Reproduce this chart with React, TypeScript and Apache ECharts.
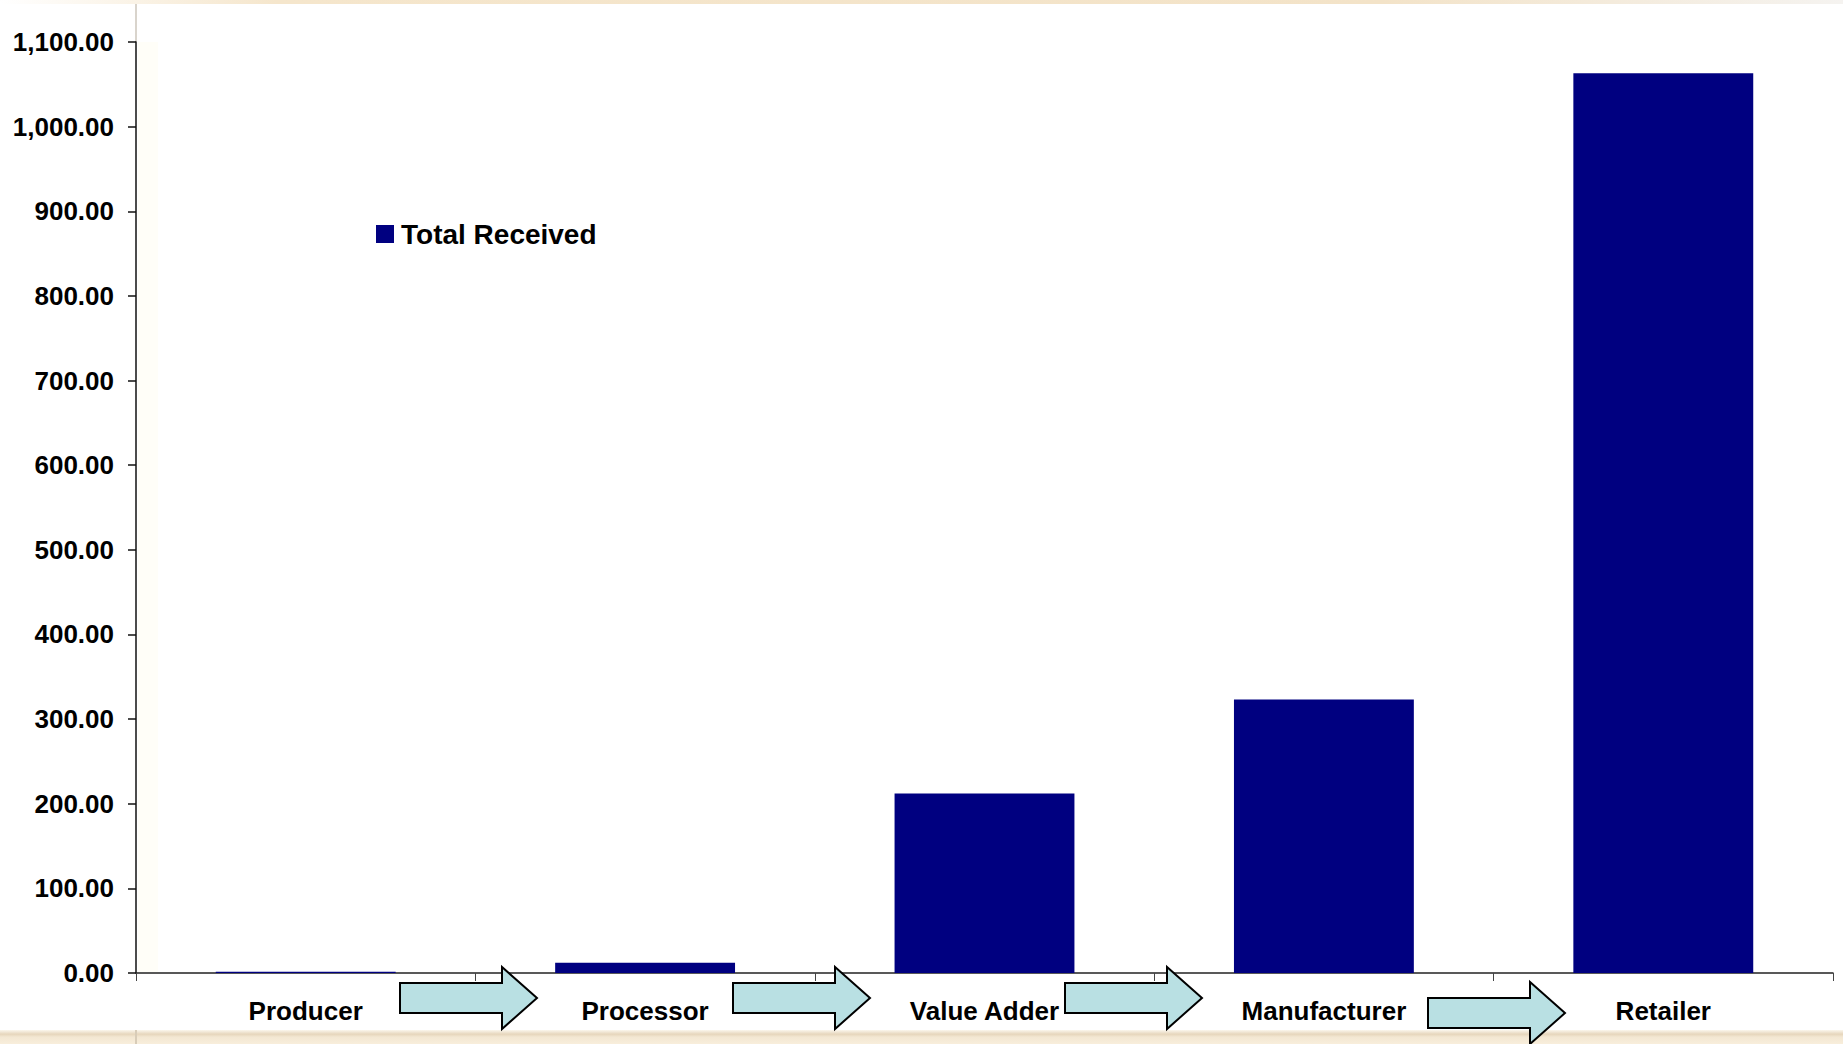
import React, { useEffect, useRef } from "react";
import * as echarts from "echarts";

const categories = ["Producer", "Processor", "Value Adder", "Manufacturer", "Retailer"];
const totalReceived = [1.5, 12, 212, 323, 1063];
const seriesName = "Total Received";
const yMin = 0;
const yMax = 1100;
const yInterval = 100;

const FONT = "'Liberation Sans', Arial, sans-serif";

function arrow(x: number, y: number) {
  const pts = [
    [x, y],
    [x + 102, y],
    [x + 102, y - 16],
    [x + 137, y + 15],
    [x + 102, y + 46],
    [x + 102, y + 30],
    [x, y + 30],
  ];
  return {
    type: "polygon",
    z: 100,
    shape: { points: pts },
    style: { fill: "#B9E0E3", stroke: "#000", lineWidth: 2, lineJoin: "miter" },
  };
}

export default function App() {
  const ref = useRef<HTMLDivElement>(null);
  useEffect(() => {
    document.body.style.margin = "0";
    const chart = echarts.init(ref.current!, null, { renderer: "svg" });
    chart.setOption({
      animation: false,
      backgroundColor: "#ffffff",
      textStyle: { fontFamily: FONT },
      grid: { left: 136, right: 10, top: 42, bottom: 71, containLabel: false },
      legend: {
        data: [seriesName],
        left: 376,
        top: 220,
        padding: 0,
        icon: "rect",
        itemWidth: 18,
        itemHeight: 18,
        textStyle: { fontSize: 28, fontWeight: "bold", color: "#000", fontFamily: FONT, padding: [0, 0, 0, 2] },
      },
      xAxis: {
        type: "category",
        data: categories,
        axisLine: { lineStyle: { color: "#222", width: 1.5 } },
        axisTick: { show: true, length: 8, lineStyle: { color: "#444", width: 1 } },
        axisLabel: { fontSize: 26, fontWeight: "bold", color: "#000", margin: 25, fontFamily: FONT },
        splitLine: { show: false },
      },
      yAxis: {
        type: "value",
        min: yMin,
        max: yMax,
        interval: yInterval,
        axisLine: { show: true, lineStyle: { color: "#111", width: 1.5 } },
        axisTick: { show: true, length: 8, lineStyle: { color: "#111", width: 1.5 } },
        splitLine: { show: false },
        axisLabel: {
          fontSize: 26,
          fontWeight: "bold",
          color: "#000",
          margin: 22,
          fontFamily: FONT,
          formatter: (v: number) =>
            v.toLocaleString("en-US", { minimumFractionDigits: 2, maximumFractionDigits: 2 }),
        },
      },
      series: [
        {
          name: seriesName,
          type: "bar",
          data: totalReceived,
          barCategoryGap: "47%",
          itemStyle: { color: "#000080" },
        },
      ],
      graphic: [
        {
          type: "line",
          z: -10,
          silent: true,
          shape: { x1: 136, y1: 0, x2: 136, y2: 42 },
          style: { stroke: "#D9D4CC", lineWidth: 2 },
        },
        {
          type: "rect",
          z: -10,
          shape: { x: 138, y: 42, width: 20, height: 930 },
          style: { fill: "#FFFEF8" },
        },
        {
          type: "rect",
          z: -5,
          shape: { x: 0, y: 0, width: 1843, height: 4 },
          style: {
            fill: {
              type: "linear", x: 0, y: 0, x2: 1, y2: 0,
              colorStops: [
                { offset: 0, color: "#FFFFFF" },
                { offset: 0.15, color: "#F5E6CC" },
                { offset: 0.75, color: "#F3E3C8" },
                { offset: 1, color: "#F5F3F0" },
              ],
            },
          },
        },
        {
          type: "rect",
          z: 50,
          shape: { x: 0, y: 1030, width: 1843, height: 14 },
          style: {
            fill: {
              type: "linear", x: 0, y: 0, x2: 0, y2: 1,
              colorStops: [
                { offset: 0, color: "#FBF6EC" },
                { offset: 0.3, color: "#E6D6BC" },
                { offset: 0.5, color: "#F3E7D2" },
                { offset: 1, color: "#F8EEDC" },
              ],
            },
          },
        },
        {
          type: "line",
          z: 51,
          shape: { x1: 136, y1: 1030, x2: 136, y2: 1044 },
          style: { stroke: "#D8CCB8", lineWidth: 2 },
        },
        arrow(400, 983),
        arrow(733, 983),
        arrow(1065, 983),
        arrow(1428, 998),
      ],
    });
    return () => chart.dispose();
  }, []);
  return (
    <div
      ref={ref}
      style={{ position: "absolute", left: 0, top: 0, width: 1843, height: 1044 }}
    />
  );
}
